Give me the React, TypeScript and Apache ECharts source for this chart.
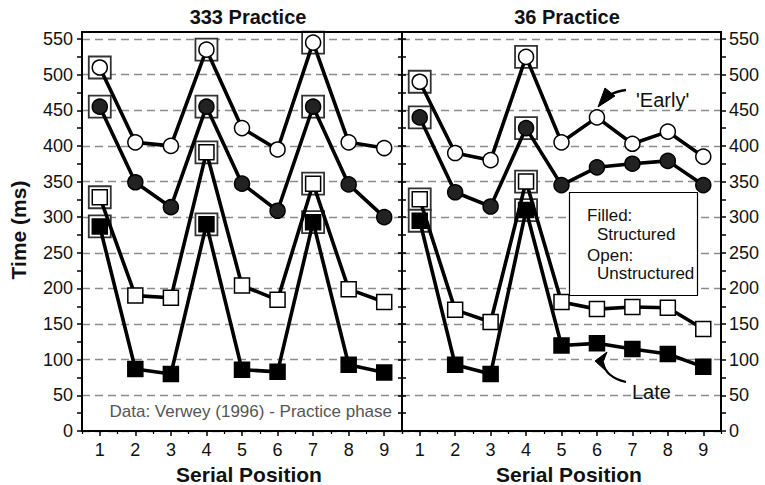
import React, { useEffect, useRef } from "react";
import * as echarts from "echarts";

const positions = ["1", "2", "3", "4", "5", "6", "7", "8", "9"];
const early333Unstructured = [510, 405, 400, 535, 425, 395, 545, 405, 397];
const early333Structured = [455, 349, 314, 455, 347, 309, 455, 346, 300];
const late333Unstructured = [328, 190, 187, 391, 204, 184, 347, 199, 181];
const late333Structured = [287, 87, 80, 290, 86, 83, 293, 93, 82];
const early36Unstructured = [490, 390, 380, 525, 405, 440, 403, 420, 385];
const early36Structured = [440, 335, 315, 425, 345, 370, 375, 379, 345];
const late36Unstructured = [325, 170, 153, 350, 181, 171, 174, 173, 143];
const late36Structured = [295, 93, 80, 310, 120, 123, 115, 108, 90];
const chunkStarts333 = [0, 3, 6];
const chunkStarts36 = [0, 3];
const panelTitles = ["333 Practice", "36 Practice"];
const yMin = 0;
const yMax = 550;
const yInterval = 50;

const FONT = "'Liberation Sans', Arial, Helvetica, sans-serif";

export default function App() {
  const ref = useRef<HTMLDivElement>(null);
  useEffect(() => {
    if (!ref.current) return;
    const chart = echarts.init(ref.current, null, { renderer: "svg" });

    const grids = [
      { left: 82, top: 39, width: 320, height: 392 },
      { left: 402, top: 39, width: 319, height: 392 },
    ];

    const xAxes: any[] = [];
    const yAxes: any[] = [];
    [0, 1].forEach((g) => {
      xAxes.push({
        type: "category",
        gridIndex: g,
        data: positions,
        boundaryGap: true,
        axisLine: { show: false },
        axisTick: { show: true, alignWithLabel: true, length: 5, lineStyle: { color: "#000", width: 1.5 } },
        axisLabel: { show: true, fontSize: 18, color: "#111", margin: 10, fontFamily: FONT },
        splitLine: { show: false },
      });
      xAxes.push({
        type: "category",
        gridIndex: g,
        data: positions,
        boundaryGap: true,
        position: "bottom",
        axisLine: { show: false },
        axisTick: { show: true, length: 3, lineStyle: { color: "#000", width: 1.2 } },
        axisLabel: { show: false },
        splitLine: { show: false },
      });
    });
    const yCommon = {
      type: "value",
      min: yMin,
      max: yMax,
      interval: yInterval,
      axisLine: { show: false },
      minorTick: { show: true, splitNumber: 2, length: 5, lineStyle: { color: "#000", width: 1.5 } },
    };
    // grid 0 left (labels)
    yAxes.push({
      ...yCommon,
      gridIndex: 0,
      position: "left",
      axisTick: { show: true, length: 5, lineStyle: { color: "#000", width: 1.5 } },
      axisLabel: { show: true, fontSize: 18, color: "#111", margin: 9, fontFamily: FONT },
      splitLine: { show: true, lineStyle: { color: "#8c8c8c", width: 1.3, type: [8, 5] } },
    });
    // grid 0 right (inside ticks)
    yAxes.push({
      ...yCommon,
      gridIndex: 0,
      position: "right",
      axisTick: { show: true, inside: true, length: 4, lineStyle: { color: "#000", width: 1.5 } },
      minorTick: { show: true, splitNumber: 2, length: 4, lineStyle: { color: "#000", width: 1.5 } },
      axisLabel: { show: false },
      splitLine: { show: false },
    });
    // grid 1 left (inside ticks)
    yAxes.push({
      ...yCommon,
      gridIndex: 1,
      position: "left",
      axisTick: { show: true, inside: true, length: 4, lineStyle: { color: "#000", width: 1.5 } },
      minorTick: { show: true, splitNumber: 2, length: 4, lineStyle: { color: "#000", width: 1.5 } },
      axisLabel: { show: false },
      splitLine: { show: true, lineStyle: { color: "#8c8c8c", width: 1.3, type: [8, 5] } },
    });
    // grid 1 right (labels)
    yAxes.push({
      ...yCommon,
      gridIndex: 1,
      position: "right",
      axisTick: { show: true, length: 5, lineStyle: { color: "#000", width: 1.5 } },
      axisLabel: { show: true, fontSize: 18, color: "#111", margin: 8, fontFamily: FONT },
      splitLine: { show: false },
    });

    const lineSeries = (data: number[], g: number, symbol: string, fill: string) => ({
      type: "line",
      xAxisIndex: g * 2,
      yAxisIndex: g * 2,
      data,
      symbol,
      symbolSize: 15,
      showAllSymbol: true,
      z: 3,
      silent: true,
      lineStyle: { color: "#000", width: 3.6 },
      itemStyle: { color: fill, borderColor: "#000", borderWidth: 1.5 },
      emphasis: { disabled: true },
    });

    const frameSeries = (sets: number[][], starts: number[], g: number) => {
      const data: any[] = [];
      sets.forEach((arr) => starts.forEach((i) => data.push([i, arr[i]])));
      return {
        type: "scatter",
        xAxisIndex: g * 2,
        yAxisIndex: g * 2,
        data,
        symbol: "rect",
        symbolSize: 22,
        z: 1,
        silent: true,
        itemStyle: { color: "#fff", borderColor: "#333", borderWidth: 1.8, opacity: 1 },
        emphasis: { disabled: true },
      };
    };

    const sets333 = [early333Unstructured, early333Structured, late333Unstructured, late333Structured];
    const sets36 = [early36Unstructured, early36Structured, late36Unstructured, late36Structured];

    const series: any[] = [
      frameSeries(sets333, chunkStarts333, 0),
      frameSeries(sets36, chunkStarts36, 1),
      lineSeries(early333Unstructured, 0, "circle", "#fff"),
      lineSeries(early333Structured, 0, "circle", "#222"),
      lineSeries(late333Unstructured, 0, "rect", "#fff"),
      lineSeries(late333Structured, 0, "rect", "#000"),
      lineSeries(early36Unstructured, 1, "circle", "#fff"),
      lineSeries(early36Structured, 1, "circle", "#222"),
      lineSeries(late36Unstructured, 1, "rect", "#fff"),
      lineSeries(late36Structured, 1, "rect", "#000"),
    ];

    const graphic: any[] = [
      // panel frames
      { type: "rect", z: 50, silent: true, shape: { x: 82, y: 32, width: 320, height: 399 }, style: { fill: "none", stroke: "#000", lineWidth: 2 } },
      { type: "rect", z: 50, silent: true, shape: { x: 402, y: 32, width: 319, height: 399 }, style: { fill: "none", stroke: "#000", lineWidth: 2 } },
      // titles
      { type: "text", z: 50, x: 248, y: 17, style: { text: panelTitles[0], font: `bold 20px ${FONT}`, fill: "#111", textAlign: "center", textVerticalAlign: "middle" } },
      { type: "text", z: 50, x: 567, y: 17, style: { text: panelTitles[1], font: `bold 20px ${FONT}`, fill: "#111", textAlign: "center", textVerticalAlign: "middle" } },
      { type: "text", z: 50, x: 249, y: 474, style: { text: "Serial Position", font: `bold 21px ${FONT}`, fill: "#111", textAlign: "center", textVerticalAlign: "middle" } },
      { type: "text", z: 50, x: 569, y: 474, style: { text: "Serial Position", font: `bold 21px ${FONT}`, fill: "#111", textAlign: "center", textVerticalAlign: "middle" } },
      { type: "text", z: 50, x: 18, y: 230, rotation: Math.PI / 2, style: { text: "Time (ms)", font: `bold 21px ${FONT}`, fill: "#111", textAlign: "center", textVerticalAlign: "middle" } },
      // data source
      { type: "text", z: 50, x: 392, y: 411, style: { text: "Data: Verwey (1996) - Practice phase", font: `17px ${FONT}`, fill: "#555", textAlign: "right", textVerticalAlign: "middle" } },
      // legend box
      { type: "rect", z: 60, silent: true, shape: { x: 569.5, y: 192.5, width: 128, height: 103 }, style: { fill: "#fff", stroke: "#000", lineWidth: 1.2 } },
      { type: "text", z: 61, x: 587, y: 215, style: { text: "Filled:", font: `17px ${FONT}`, fill: "#111", textAlign: "left", textVerticalAlign: "middle" } },
      { type: "text", z: 61, x: 597, y: 234, style: { text: "Structured", font: `17px ${FONT}`, fill: "#111", textAlign: "left", textVerticalAlign: "middle" } },
      { type: "text", z: 61, x: 587, y: 255, style: { text: "Open:", font: `17px ${FONT}`, fill: "#111", textAlign: "left", textVerticalAlign: "middle" } },
      { type: "text", z: 61, x: 597, y: 273, style: { text: "Unstructured", font: `17px ${FONT}`, fill: "#111", textAlign: "left", textVerticalAlign: "middle" } },
      // Early annotation
      { type: "text", z: 61, x: 636, y: 100, style: { text: "'Early'", font: `20px ${FONT}`, fill: "#111", textAlign: "left", textVerticalAlign: "middle" } },
      { type: "bezierCurve", z: 61, silent: true, shape: { x1: 626, y1: 90, x2: 610, y2: 95, cpx1: 617, cpy1: 91 }, style: { stroke: "#000", lineWidth: 2.5, fill: "none" } },
      { type: "polygon", z: 61, silent: true, shape: { points: [[605, 88], [615, 96], [598, 107]] }, style: { fill: "#000", stroke: "#000", lineWidth: 1 } },
      // Late annotation
      { type: "text", z: 61, x: 632, y: 392, style: { text: "Late", font: `20px ${FONT}`, fill: "#111", textAlign: "left", textVerticalAlign: "middle" } },
      { type: "bezierCurve", z: 61, silent: true, shape: { x1: 603, y1: 362, x2: 626, y2: 382, cpx1: 605, cpy1: 377 }, style: { stroke: "#000", lineWidth: 2, fill: "none" } },
      { type: "polygon", z: 61, silent: true, shape: { points: [[595, 361], [607, 352], [603, 362], [606, 371]] }, style: { fill: "#000", stroke: "#000", lineWidth: 1 } },
    ];

    chart.setOption({
      animation: false,
      backgroundColor: "#fff",
      textStyle: { fontFamily: FONT },
      grid: grids,
      xAxis: xAxes,
      yAxis: yAxes,
      series,
      graphic,
    });
    return () => chart.dispose();
  }, []);
  return (
    <div
      ref={ref}
      style={{ position: "fixed", left: 0, top: 0, width: 765, height: 485 }}
    />
  );
}
